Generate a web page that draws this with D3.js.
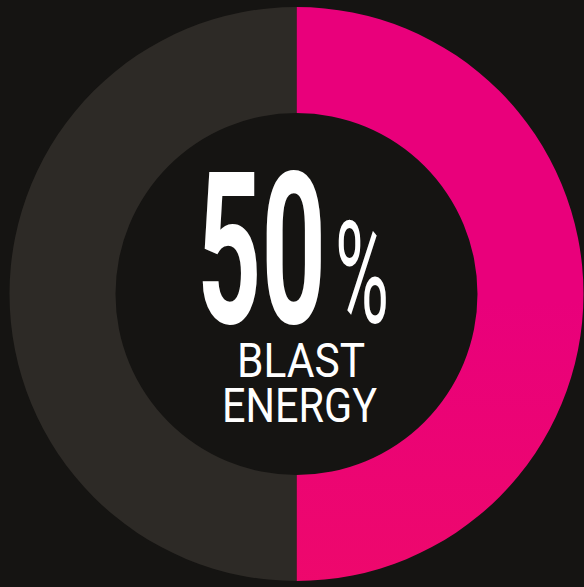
<!DOCTYPE html>
<html>
<head>
<meta charset="utf-8">
<script src="https://cdn.jsdelivr.net/npm/d3@7"></script>
<style>
  html, body { margin: 0; padding: 0; background: #151412; }
  svg { display: block; }
</style>
</head>
<body>
<svg id="chart" width="584" height="587"></svg>
<script>
// Share of the blast energy versus the remainder
const categories = ["Blast energy", "Remainder"];
const values = [50, 50];
const percentLabel = "50";
const captionLines = ["BLAST", "ENERGY"];

const width = 584, height = 587;
const cx = 296.5, cy = 294;
const outerR = 287, innerR = 181;

const svg = d3.select("#chart");
svg.append("rect").attr("width", width).attr("height", height).attr("fill", "#151412");

const defs = svg.append("defs");
const grad = defs.append("linearGradient")
  .attr("id", "pinkGrad").attr("gradientUnits", "userSpaceOnUse")
  .attr("x1", 0).attr("y1", cy - outerR).attr("x2", 0).attr("y2", cy + outerR);
grad.append("stop").attr("offset", "0%").attr("stop-color", "#e9007b");
grad.append("stop").attr("offset", "50%").attr("stop-color", "#ee086c");
grad.append("stop").attr("offset", "100%").attr("stop-color", "#f71857");

const colour = d3.scaleOrdinal().domain(categories).range(["url(#pinkGrad)", "#2d2a26"]);

const pie = d3.pie().sort(null).value(d => d.value);
const arc = d3.arc().innerRadius(innerR).outerRadius(outerR);

const data = categories.map((c, i) => ({ category: c, value: values[i] }));

const g = svg.append("g").attr("transform", `translate(${cx},${cy})`);
g.selectAll("path.slice")
  .data(pie(data))
  .join("path")
  .attr("class", "slice")
  .attr("d", arc)
  .attr("fill", d => colour(d.data.category));

// Centre label: each part squeezed horizontally to its target width
const labelParts = [
  { text: percentLabel,    x: 197, y: 323, size: 211, weight: 700, width: 129 },
  { text: "%",             x: 335, y: 323, size: 142, weight: 400, width: 54 },
  { text: captionLines[0], x: 237, y: 377, size: 48,  weight: 400, width: 128 },
  { text: captionLines[1], x: 222, y: 422, size: 48,  weight: 400, width: 155 }
];

const label = svg.append("g")
  .attr("fill", "#ffffff")
  .attr("font-family", "Roboto, 'Liberation Sans', sans-serif");

label.selectAll("text")
  .data(labelParts)
  .join("text")
  .attr("font-size", d => d.size)
  .attr("font-weight", d => d.weight)
  .text(d => d.text)
  .attr("transform", function (d) {
    const natural = this.getComputedTextLength();
    return `translate(${d.x},${d.y}) scale(${d.width / natural},1)`;
  });
</script>
</body>
</html>
